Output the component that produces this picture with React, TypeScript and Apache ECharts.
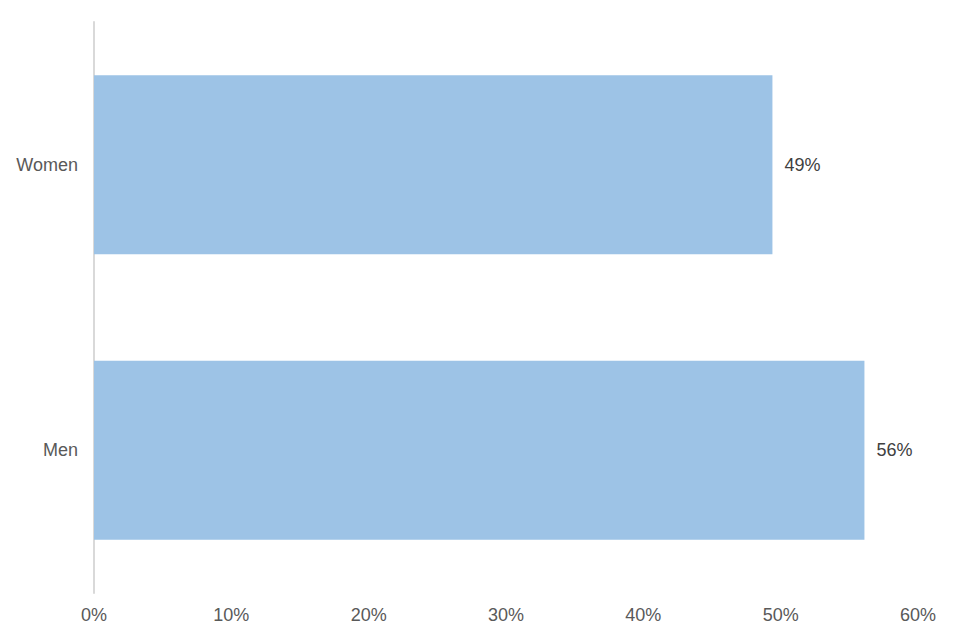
import React, { useEffect, useRef } from "react";
import * as echarts from "echarts";

const categories = ["Women", "Men"];
const values = [49.4, 56.1];
const xTicks = [0, 10, 20, 30, 40, 50, 60];

export default function App() {
  const ref = useRef<HTMLDivElement>(null);
  useEffect(() => {
    const chart = echarts.init(ref.current!, null, { renderer: "svg" });
    const font = "Liberation Sans";
    chart.setOption({
      animation: false,
      grid: { left: 94, right: 42, top: 22, bottom: 47 },
      xAxis: {
        type: "value",
        min: xTicks[0],
        max: xTicks[xTicks.length - 1],
        interval: 10,
        axisLine: { show: false },
        axisTick: { show: false },
        splitLine: { show: false },
        axisLabel: {
          formatter: (v: number) => `${v}%`,
          color: "#595959",
          fontSize: 18,
          fontFamily: font,
          margin: 13,
        },
      },
      yAxis: {
        type: "category",
        data: categories,
        inverse: true,
        axisLine: { show: true, lineStyle: { color: "#d9d9d9", width: 2 } },
        axisTick: { show: false },
        axisLabel: {
          color: "#595959",
          fontSize: 18,
          fontFamily: font,
          margin: 16,
        },
      },
      series: [
        {
          type: "bar",
          data: values,
          barWidth: 179,
          itemStyle: { color: "#9dc3e6" },
          label: {
            show: true,
            position: "right",
            distance: 12,
            formatter: (p: any) => `${Math.round(p.value)}%`,
            color: "#404040",
            fontSize: 18,
            fontFamily: font,
          },
        },
      ],
    });
    return () => chart.dispose();
  }, []);
  return (
    <div
      ref={ref}
      style={{ position: "fixed", left: 0, top: 0, width: 960, height: 640, background: "#fff" }}
    />
  );
}
